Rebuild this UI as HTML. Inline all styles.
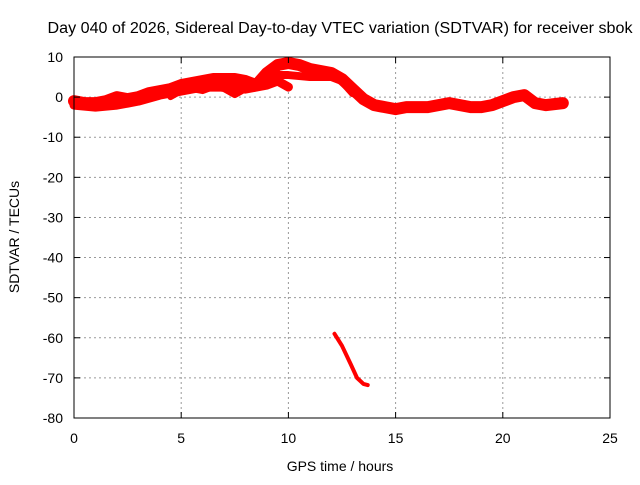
<!DOCTYPE html>
<html><head><meta charset="utf-8"><style>
body{margin:0;background:#fff}
svg text{font-family:"Liberation Sans",sans-serif;font-size:14px;fill:#000}
</style></head><body>
<svg width="640" height="480" id="c">
<rect width="640" height="480" fill="#fff"/>
<g id="grid"></g>
<g id="series"></g>
<rect x="74" y="57" width="536" height="361" fill="none" stroke="#000" stroke-width="1"/>
<g id="ticks"></g>
<text x="340" y="33" text-anchor="middle" textLength="585" lengthAdjust="spacingAndGlyphs" style="font-size:15.5px">Day 040 of 2026, Sidereal Day-to-day VTEC variation (SDTVAR) for receiver sbok</text>
<text x="340" y="471" text-anchor="middle">GPS time / hours</text>
<text transform="translate(19,237) rotate(-90)" text-anchor="middle">SDTVAR / TECUs</text>
</svg>
<script>
const xTicks=[0,5,10,15,20,25];
const yTicks=[10,0,-10,-20,-30,-40,-50,-60,-70,-80];
const mainH=[0,0.5,1,1.5,2,2.5,3,3.5,4,4.5,5,5.5,6,6.5,7,7.5,8,8.5,9,9.5,10,10.5,11,11.5,12,12.5,13,13.5,14,14.5,15,15.5,16,16.5,17,17.5,18,18.5,19,19.5,20,20.5,21,21.5,22,22.8];
const mainV=[-1,-1.5,-1.5,-1,0,-0.5,0,1,1.5,2,3,3.5,4,4.5,4.5,4.5,4,3,6,8,8.5,8,7,6.5,6,4.5,2,-0.5,-2,-2.5,-3,-2.5,-2.5,-2.5,-2,-1.5,-2,-2.5,-2.5,-2,-1,0,0.5,-1.5,-2,-1.5];
const lowH=[0,1,2,3,4,5,6,7,8,8.5,9,9.5,10];
const lowV=[-2,-2.5,-2,-1,0.5,1.5,2.5,2.5,2,2.5,3,4,2.5];
const midH=[4.5,5,5.5,6,6.5,7,7.5,8];
const midV=[0,1.5,2,1.5,2.5,2,0.5,2];
const upH=[9,9.5,10,11,12,12.5,13];
const upV=[4,5.5,5.5,5,5,4,1];
const diveH=[12.15,12.5,12.9,13.2,13.5,13.7];
const diveV=[-59,-62,-66.5,-70,-71.5,-71.8];
const X=h=>74+h*536/25, Y=v=>57+(10-v)*361/90;
const NS='http://www.w3.org/2000/svg';
function mk(t,a,p){const e=document.createElementNS(NS,t);for(const k in a)e.setAttribute(k,a[k]);p.appendChild(e);return e;}
const grid=document.getElementById('grid'),ticks=document.getElementById('ticks'),ser=document.getElementById('series');
xTicks.forEach(t=>{const x=X(t);
 if(t>0&&t<25){const g=mk('line',{x1:x,x2:x,y1:57,y2:418,stroke:'#999','stroke-dasharray':'2,3'},grid);
 
 }
 mk('line',{x1:x,x2:x,y1:418,y2:412,stroke:'#000'},ticks);mk('line',{x1:x,x2:x,y1:57,y2:63,stroke:'#000'},ticks);
 const l=mk('text',{x:x,y:443,'text-anchor':'middle'},ticks);l.textContent=t;
 
 });
yTicks.forEach(t=>{const y=Y(t);
 if(t<10&&t>-80){const g=mk('line',{x1:74,x2:610,y1:y,y2:y,stroke:'#999','stroke-dasharray':'2,3'},grid);
 
 }
 mk('line',{x1:74,x2:80,y1:y,y2:y,stroke:'#000'},ticks);mk('line',{x1:610,x2:604,y1:y,y2:y,stroke:'#000'},ticks);
 const l=mk('text',{x:63,y:y+5,'text-anchor':'end'},ticks);l.textContent=t;
 
 });
function track(H,V,w,name){
 const pts=H.map((h,i)=>X(h)+','+Y(V[i])).join(' ');
 const p=mk('polyline',{points:pts,fill:'none',stroke:'#f00','stroke-width':w,'stroke-linejoin':'round','stroke-linecap':'round'},ser);
 
 
}
track(mainH,mainV,12,'sdtvar-main-band');
track(lowH,lowV,9,'sdtvar-lower-band');
track(midH,midV,6,'sdtvar-mid-band');
track(upH,upV,8,'sdtvar-upper-band');
track(diveH,diveV,4,'sdtvar-outlier-segment');
</script>
</body></html>
